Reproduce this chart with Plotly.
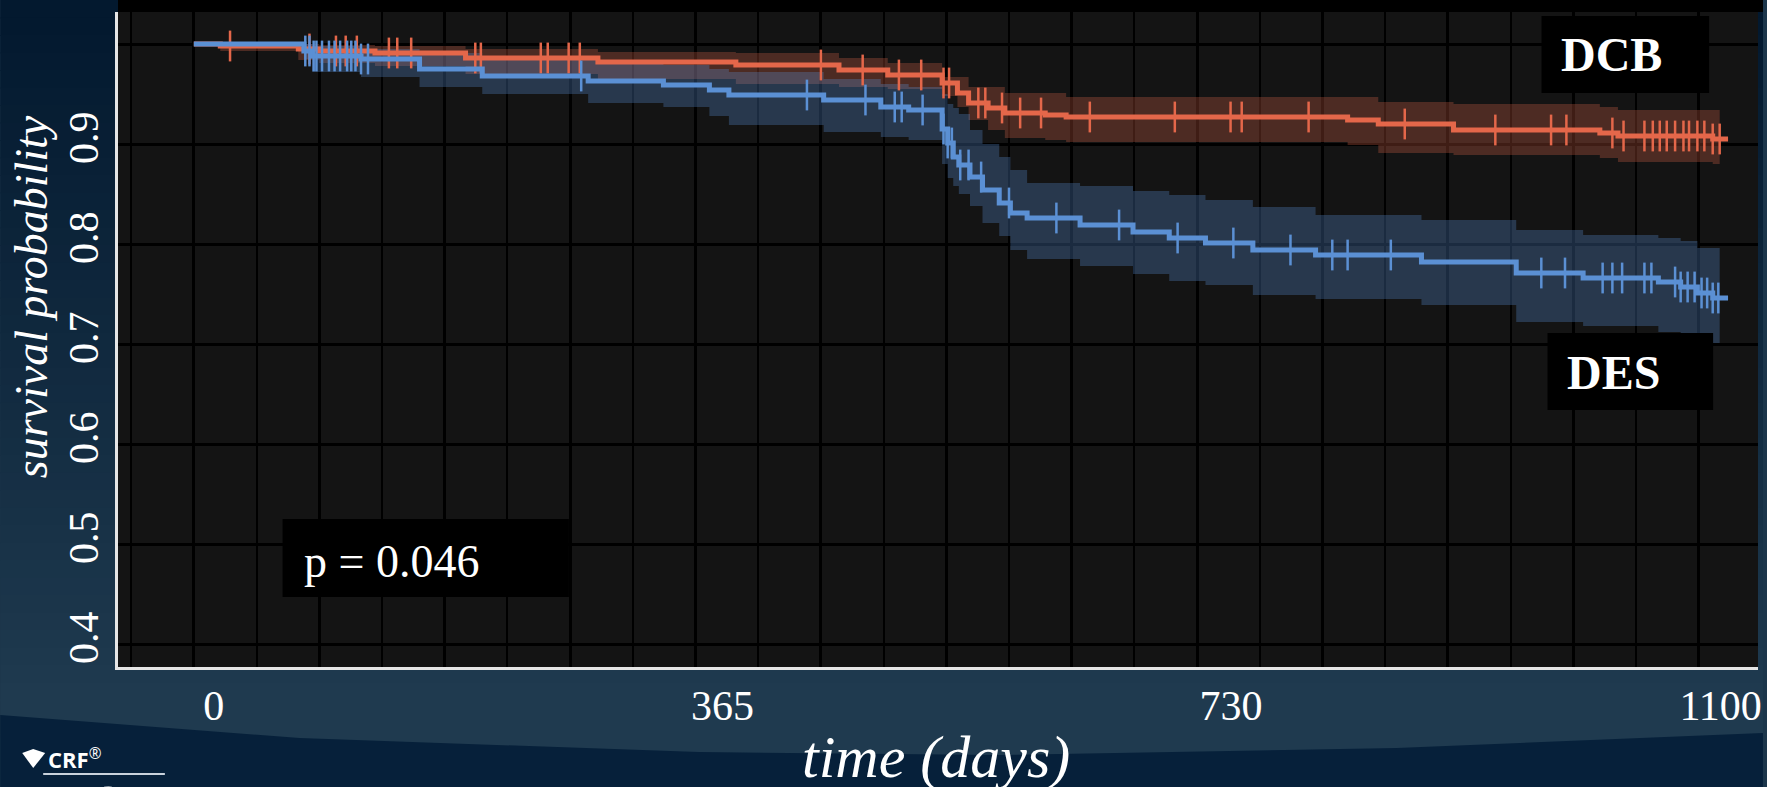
import numpy as np
import plotly.graph_objects as go

# ---------------- data ----------------
DCB_t = [0, 19, 75, 90, 130, 195, 290, 389, 463, 498, 537, 548, 556, 570, 582, 611, 626,
         828, 850, 904, 1009, 1022, 1090, 1101]
DCB_s = [1.000, 0.998, 0.995, 0.993, 0.991, 0.986, 0.982, 0.979, 0.974, 0.969, 0.961, 0.951,
         0.941, 0.936, 0.931, 0.929, 0.927, 0.924, 0.920, 0.914, 0.911, 0.908, 0.905, 0.905]
DCB_upper = [1.000, 1.000, 1.000, 0.999, 0.998, 0.995, 0.992, 0.991, 0.986, 0.981, 0.967, 0.967,
             0.957, 0.957, 0.951, 0.951, 0.947, 0.947, 0.942, 0.940, 0.937, 0.934, 0.934, 0.934]
DCB_lower = [1.000, 0.993, 0.984, 0.981, 0.978, 0.970, 0.965, 0.960, 0.957, 0.955, 0.948, 0.937,
             0.924, 0.914, 0.906, 0.904, 0.902, 0.899, 0.891, 0.889, 0.886, 0.882, 0.880, 0.880]
DCB_censor = [26, 83, 102, 109, 117, 140, 146, 156, 202, 206, 249, 254, 269, 277, 450, 480, 506,
              522, 538, 542, 563, 568, 580, 593, 608, 643, 704, 744, 752, 800, 869, 934, 974, 985,
              1018, 1026, 1041, 1047, 1052, 1057, 1063, 1069, 1073, 1079, 1084, 1090, 1095]

DES_t = [0, 79, 85, 120, 162, 207, 283, 337, 370, 384, 452, 493, 513, 537, 541, 545, 549, 557,
         566, 578, 586, 598, 636, 674, 700, 726, 760, 805, 881, 949, 997, 1051, 1067, 1079, 1090, 1101]
DES_s = [1.000, 0.993, 0.988, 0.985, 0.975, 0.968, 0.963, 0.959, 0.954, 0.949, 0.944, 0.937,
         0.934, 0.915, 0.901, 0.887, 0.879, 0.867, 0.854, 0.841, 0.831, 0.826, 0.819, 0.812,
         0.806, 0.801, 0.794, 0.789, 0.782, 0.771, 0.766, 0.762, 0.757, 0.751, 0.746, 0.746]
DES_upper = [1.000, 1.000, 0.998, 0.995, 0.991, 0.988, 0.984, 0.979, 0.975, 0.972, 0.965, 0.960,
             0.957, 0.950, 0.940, 0.936, 0.930, 0.914, 0.900, 0.887, 0.874, 0.861, 0.858, 0.853,
             0.849, 0.844, 0.837, 0.829, 0.824, 0.814, 0.809, 0.806, 0.803, 0.796, 0.796, 0.796]
DES_lower = [1.000, 0.985, 0.972, 0.967, 0.957, 0.950, 0.941, 0.937, 0.928, 0.919, 0.912, 0.907,
             0.904, 0.880, 0.866, 0.858, 0.850, 0.838, 0.821, 0.808, 0.794, 0.785, 0.778, 0.770,
             0.763, 0.759, 0.749, 0.745, 0.739, 0.722, 0.718, 0.712, 0.708, 0.701, 0.701, 0.701]
DES_censor = [80, 83, 86, 88, 92, 97, 101, 105, 110, 113, 116, 120, 125, 278, 440, 482, 503, 508,
              523, 538, 541, 544, 550, 556, 565, 585, 619, 664, 706, 746, 787, 817, 828, 859, 967,
              984, 1011, 1018, 1025, 1041, 1046, 1063, 1067, 1072, 1077, 1082, 1086, 1090, 1094]
CI_END = 1095

X_TICKS = [0, 365, 730]
X_TICK_TEXT = ["0", "365", "730"]
X_LAST_TICK = [1100]
X_LAST_TEXT = ["1100"]
Y_TICKS = [0.4, 0.5, 0.6, 0.7, 0.8, 0.9]
Y_TICK_TEXT = ["0.4", "0.5", "0.6", "0.7", "0.8", "0.9"]
P_TEXT = "p = 0.046"

# ---------------- style ----------------
W, H = 1767, 787
PL, PR, PT, PB = 118, 1762, 12, 667
ORANGE = "#e4674a"
BLUE = "#5b90d4"
SERIF = "Liberation Serif"


def fx(px):
    return (px - PL) / (PR - PL)


def fy(py):
    return (PB - py) / (PB - PT)


def step_at(ts, ss, times):
    idx = np.searchsorted(np.array(ts), np.array(times), side="right") - 1
    return list(np.array(ss)[idx])


fig = go.Figure()

for t, s, lo, up, col, rgba in [
    (DCB_t, DCB_s, DCB_lower, DCB_upper, ORANGE, "rgba(228,103,74,0.28)"),
    (DES_t, DES_s, DES_lower, DES_upper, BLUE, "rgba(91,144,212,0.30)"),
]:
    bt = t[:-1] + [CI_END]
    fig.add_trace(go.Scatter(x=bt, y=lo, mode="lines", line=dict(width=0, shape="hv"),
                             hoverinfo="skip", showlegend=False))
    fig.add_trace(go.Scatter(x=bt, y=up, mode="lines", line=dict(width=0, shape="hv"),
                             fill="tonexty", fillcolor=rgba, hoverinfo="skip", showlegend=False))

for t, s, cens, col, name in [
    (DCB_t, DCB_s, DCB_censor, ORANGE, "DCB"),
    (DES_t, DES_s, DES_censor, BLUE, "DES"),
]:
    fig.add_trace(go.Scatter(x=t, y=s, mode="lines", name=name,
                             line=dict(color=col, width=5, shape="hv"), showlegend=False))
    fig.add_trace(go.Scatter(x=cens, y=step_at(t, s, cens), mode="markers", showlegend=False,
                             marker=dict(symbol="line-ns", size=22,
                                         line=dict(color=col, width=2.5)),
                             hoverinfo="skip"))

# invisible traces that activate the labelled overlay axes
fig.add_trace(go.Scatter(x=[0], y=[0.5], xaxis="x2", yaxis="y2", mode="markers",
                         marker=dict(opacity=0), hoverinfo="skip", showlegend=False))
fig.add_trace(go.Scatter(x=[0], y=[0.5], xaxis="x3", yaxis="y2", mode="markers",
                         marker=dict(opacity=0), hoverinfo="skip", showlegend=False))

XR = [-54.4, 1122.5]
YR = [0.377, 1.032]

shapes = []
# slide background gradient
top_c = np.array([3, 25, 47])
mid_c = np.array([31, 58, 79])
N = 40
for i in range(N):
    y0 = i * 700 / N
    y1 = (i + 1) * 700 / N + 1
    c = top_c + (mid_c - top_c) * (i / (N - 1))
    shapes.append(dict(type="rect", xref="paper", yref="paper", layer="below",
                       x0=fx(0), x1=fx(W), y0=fy(y1), y1=fy(y0),
                       fillcolor="rgb(%d,%d,%d)" % tuple(c), line=dict(width=0)))
shapes.append(dict(type="rect", xref="paper", yref="paper", layer="below",
                   x0=fx(0), x1=fx(W), y0=fy(H), y1=fy(699),
                   fillcolor="rgb(31,58,79)", line=dict(width=0)))
# dark curved band at bottom
pts = [(0, 715), (300, 738), (700, 752), (1000, 755), (1400, 748), (1767, 733)]
path = "M " + " L ".join("%.4f,%.4f" % (fx(a), fy(b)) for a, b in pts)
path += " L %.4f,%.4f L %.4f,%.4f Z" % (fx(W), fy(H + 5), fx(0), fy(H + 5))
shapes.append(dict(type="path", xref="paper", yref="paper", layer="below", path=path,
                   fillcolor="#06203a", line=dict(width=0)))
# plot panel
shapes.append(dict(type="rect", xref="paper", yref="paper", layer="below",
                   x0=0, x1=1, y0=0, y1=1, fillcolor="#141414", line=dict(width=0)))
# black strip above the panel
shapes.append(dict(type="rect", xref="paper", yref="paper", layer="below",
                   x0=0, x1=fx(W), y0=1, y1=fy(-2), fillcolor="#000000", line=dict(width=0)))
# label boxes
for (x0, x1, y0, y1) in [(1545, 1713, 16, 93), (1551, 1717, 333, 410), (283, 570, 519, 597)]:
    shapes.append(dict(type="rect", xref="paper", yref="paper", layer="above",
                       x0=fx(x0), x1=fx(x1), y0=fy(y1), y1=fy(y0),
                       fillcolor="#000000", line=dict(width=0)))
# logo bits
shapes.append(dict(type="path", xref="paper", yref="paper", layer="above",
                   path="M %.4f,%.4f L %.4f,%.4f L %.4f,%.4f L %.4f,%.4f Z" % (
                       fx(22), fy(753), fx(33), fy(749), fx(45), fy(753), fx(33), fy(768)),
                   fillcolor="white", line=dict(width=0)))
shapes.append(dict(type="line", xref="paper", yref="paper", layer="above",
                   x0=fx(43), x1=fx(165), y0=fy(774), y1=fy(774),
                   line=dict(color="#c9d2dc", width=2)))


def ann(text, x, y, size, family=SERIF, style="normal", angle=0, xanchor="center",
        yanchor="middle"):
    return dict(text=text, x=fx(x), y=fy(y), xref="paper", yref="paper", showarrow=False,
                xanchor=xanchor, yanchor=yanchor, textangle=angle,
                font=dict(family=family, size=size, color="white", style=style))


annotations = [
    ann("<b>DCB</b>", 1615, 55, 48),
    ann("<b>DES</b>", 1617, 372, 48),
    ann(P_TEXT, 302, 561, 46, xanchor="left"),
    ann("survival probability", 32, 297, 46, style="italic", angle=-90),
    ann("time (days)", 938, 757, 60, style="italic"),
    ann("<b>CRF</b><sup>®</sup>", 46, 758, 22, family="Open Sans", xanchor="left"),
    ann("<b>TCT</b>", 104, 803, 52, family="Open Sans"),
]

fig.update_layout(
    width=W, height=H,
    margin=dict(l=PL, r=W - PR, t=PT, b=H - PB, pad=0),
    paper_bgcolor="#1c364b",
    plot_bgcolor="rgba(0,0,0,0)",
    showlegend=False,
    shapes=shapes,
    annotations=annotations,
    xaxis=dict(range=XR, tick0=0, dtick=90, showgrid=True, gridcolor="#000000", gridwidth=3,
               minor=dict(tick0=0, dtick=45, showgrid=True, gridcolor="#000000", gridwidth=2),
               showticklabels=False, ticks="", zeroline=False,
               showline=True, linecolor="#e6e6e6", linewidth=2.5, fixedrange=True),
    yaxis=dict(range=YR, tick0=0, dtick=0.1, showgrid=True, gridcolor="#000000", gridwidth=3,
               showticklabels=False, ticks="", zeroline=False,
               showline=True, linecolor="#e6e6e6", linewidth=2.5, fixedrange=True),
    xaxis2=dict(range=XR, overlaying="x", anchor="y", side="bottom",
                tickvals=X_TICKS, ticktext=X_TICK_TEXT, showgrid=False, zeroline=False,
                ticks="", ticklabelstandoff=10, ticklabelshift=20, ticklabeloverflow="allow",
                tickfont=dict(family=SERIF, size=42, color="white"), fixedrange=True),
    xaxis3=dict(range=XR, overlaying="x", anchor="y", side="bottom",
                tickvals=X_LAST_TICK, ticktext=X_LAST_TEXT, showgrid=False, zeroline=False,
                ticks="", ticklabelstandoff=10, ticklabelshift=-6, ticklabeloverflow="allow",
                tickfont=dict(family=SERIF, size=42, color="white"), fixedrange=True),
    yaxis2=dict(range=YR, overlaying="y", anchor="x", side="left",
                tickvals=Y_TICKS, ticktext=Y_TICK_TEXT, showgrid=False, zeroline=False,
                ticks="", tickangle=-90, ticklabelstandoff=11, ticklabeloverflow="allow",
                tickfont=dict(family=SERIF, size=42, color="white"), fixedrange=True),
)

fig.write_html("out.html", config={"displayModeBar": False},
               post_script="document.body.style.margin='0';document.body.style.overflow='hidden';")
